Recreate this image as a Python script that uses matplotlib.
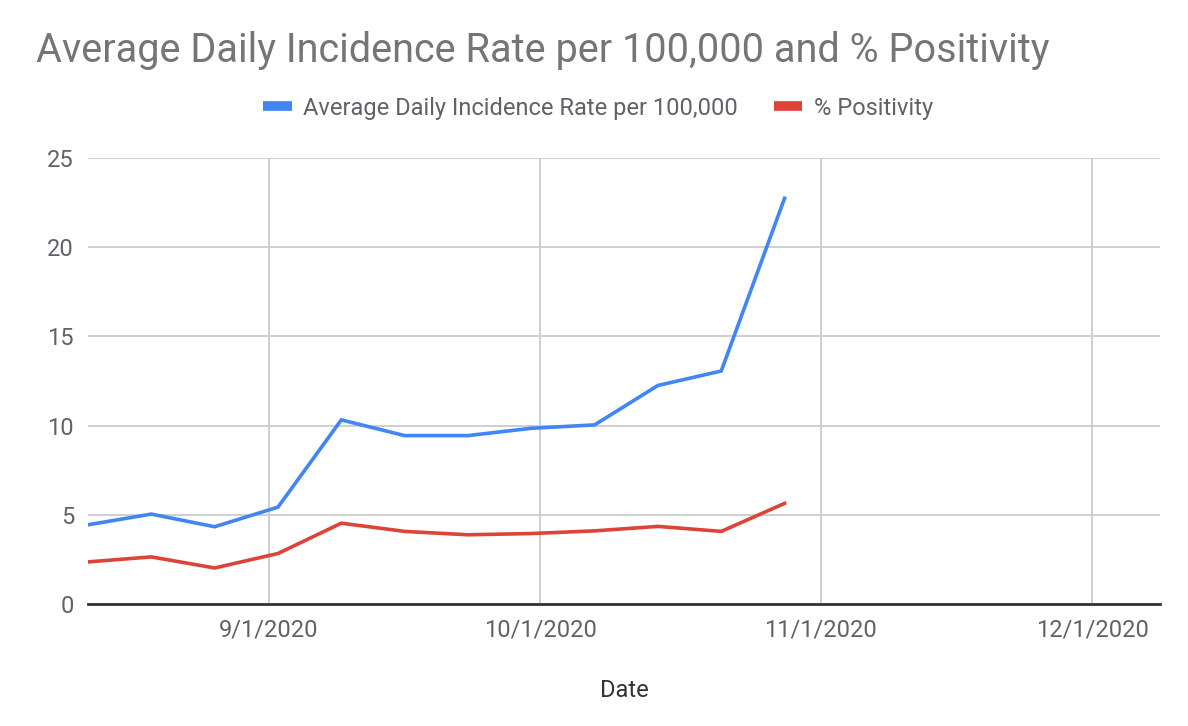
import pandas as pd
import matplotlib
matplotlib.use("Agg")
import matplotlib.pyplot as plt
from matplotlib.lines import Line2D

plt.rcParams["font.family"] = ["Roboto", "DejaVu Sans"]

C_BLUE = "#4285F4"
C_RED = "#DB4437"
C_GRID = "#cccccc"
C_TEXT = "#5f6368"

# weekly data points
dates = pd.to_datetime([
    "2020-08-12", "2020-08-19", "2020-08-26", "2020-09-02", "2020-09-09",
    "2020-09-16", "2020-09-23", "2020-09-30", "2020-10-07", "2020-10-14",
    "2020-10-21", "2020-10-28",
])
incidence = [4.44, 5.04, 4.33, 5.43, 10.32, 9.44, 9.44, 9.85, 10.04, 12.25, 13.06, 22.74]
positivity = [2.36, 2.64, 2.02, 2.83, 4.53, 4.07, 3.88, 3.95, 4.10, 4.35, 4.07, 5.64]

tick_dates = pd.to_datetime(["2020-09-01", "2020-10-01", "2020-11-01", "2020-12-01"])
tick_labels = ["9/1/2020", "10/1/2020", "11/1/2020", "12/1/2020"]
y_ticks = [0, 5, 10, 15, 20, 25]

fig = plt.figure(figsize=(11.88, 7.26), dpi=100)
ax = fig.add_axes([88 / 1188, 1 - 604 / 726, (1160 - 88) / 1188, (604 - 158) / 726])

ax.plot(dates, incidence, color=C_BLUE, lw=2.6, solid_joinstyle="miter", zorder=3)
ax.plot(dates, positivity, color=C_RED, lw=2.6, solid_joinstyle="miter", zorder=3)

ax.set_xlim(pd.Timestamp("2020-08-12"), pd.Timestamp("2020-12-08 12:00"))
ax.set_ylim(0, 25)
ax.set_xticks(tick_dates)
ax.set_xticklabels(tick_labels)
ax.set_yticks(y_ticks)
ax.grid(True, color=C_GRID, lw=1.3)
ax.set_axisbelow(True)

for s in ["top", "right", "left"]:
    ax.spines[s].set_visible(False)
ax.spines["bottom"].set_color("#333333")
ax.spines["bottom"].set_linewidth(2)
ax.spines["bottom"].set_zorder(4)
ax.tick_params(length=0, labelsize=17, colors=C_TEXT)
ax.tick_params(axis="x", pad=10.5)
ax.tick_params(axis="y", pad=10)

ax.set_xlabel("Date", fontsize=17, color="#333333", labelpad=27)

fig.text(36 / 1188, 1 - 50 / 726, "Average Daily Incidence Rate per 100,000 and % Positivity",
         fontsize=28.5, color="#757575", va="center", ha="left")

handles = [
    Line2D([0], [0], color=C_BLUE, lw=7, solid_capstyle="butt"),
    Line2D([0], [0], color=C_RED, lw=7, solid_capstyle="butt"),
]
fig.legend(handles, ["Average Daily Incidence Rate per 100,000", "% Positivity"],
           loc="center", bbox_to_anchor=(598 / 1188, 1 - 108 / 726), ncol=2,
           frameon=False, fontsize=17, labelcolor=C_TEXT,
           handlelength=1.2, handletextpad=0.5, columnspacing=1.5)

fig.savefig("out.png", dpi=100, facecolor="white")
